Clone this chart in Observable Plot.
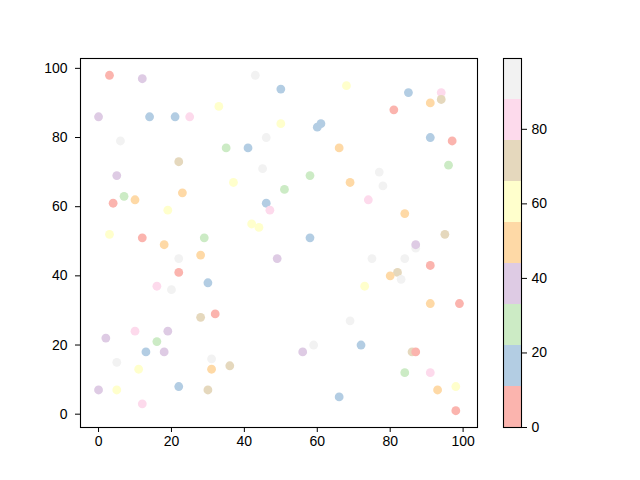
<!DOCTYPE html>
<html><head><meta charset="utf-8">
<script src="https://cdn.jsdelivr.net/npm/d3@7"></script>
<script src="https://cdn.jsdelivr.net/npm/@observablehq/plot@0.6"></script>
<style>
body{margin:0;background:#fff}
#wrap{position:relative;width:640px;height:480px}
#wrap svg{position:absolute;left:0;top:0}
</style>
</head><body><div id="wrap"></div>
<script>
// x, y and colour value of each point (colour value estimated from its band)
const xs = [3,12,0,14,21,25,33,6,22,5, 43,50,68,50,60,61,46,35,41,66, 45,58,37,69,85,94,94,91,81,91, 97,96,77,7,10,4,23,19,3,12, 29,18,28,22,22,30,16,20,51,46, 47,42,44,58,49,78,74,84,95,87, 87,75,84,91,82,80,83,73,28,32, 2,10,19,16,13,18,5,11,31,31, 0,5,22,30,12,69,56,59,36,66, 91,99,72,86,87,84,91,98,93,98];
const ys = [98,97,86,86,86,86,89,79,73,69, 98,94,95,84,83,84,80,77,77,77, 71,69,67,67,93,93,91,90,88,80, 79,72,70,63,62,61,64,59,52,51, 51,49,46,45,41,38,37,36,65,61, 59,55,54,51,45,66,62,58,52,48, 49,45,45,43,41,40,39,37,28,29, 22,24,24,21,18,18,15,13,16,13, 7,7,8,7,3,27,18,20,14,5, 32,32,20,18,18,12,12,8,7,1];
const cs = [5,38,38,16,16,82,60,93,71,38, 93,16,60,60,16,16,93,27,16,49, 93,27,60,49,16,82,71,49,5,16, 5,27,93,27,49,5,49,60,60,5, 27,49,49,93,5,16,82,93,27,16, 82,60,60,16,38,93,82,49,71,93, 38,93,93,5,71,49,93,60,71,5, 38,82,38,27,16,38,93,60,93,49, 38,60,16,71,82,93,38,93,71,16, 49,5,16,71,5,27,82,60,49,5];
const xTicks = [0,20,40,60,80,100];
const yTicks = [0,20,40,60,80,100];
const cbarTicks = [0,20,40,60,80];
const bandEdges = [0,11,22,33,44,55,66,77,88,99];

const points = xs.map((x,i)=>({x, y: ys[i], c: cs[i]}));
const bands = bandEdges.slice(0,-1).map((e,i)=>({y1:e, y2:bandEdges[i+1], c:e}));

const colorScale = {type:"threshold", domain: bandEdges.slice(1,-1), range: d3.schemePastel1};
const font = {fontFamily:"'Liberation Sans Narrow','Liberation Sans',sans-serif", fontSize:"14px", color:"black", background:"transparent", overflow:"visible"};

const main = Plot.plot({
  width:640, height:480,
  marginLeft:80, marginRight:163, marginTop:58, marginBottom:53,
  x:{domain:[-4.95,103.95]},
  y:{domain:[-3.85,102.85]},
  color: colorScale,
  style: font,
  marks:[
    Plot.dot(points,{x:"x", y:"y", fill:"c", r:4.4}),
    Plot.frame({stroke:"black", strokeWidth:1.1}),
    Plot.axisX({ticks:xTicks, tickSize:5, tickPadding:4, label:null}),
    Plot.axisY({ticks:yTicks, tickSize:5, tickPadding:8, label:null})
  ]
});

const cbar = Plot.plot({
  width:640, height:480,
  marginLeft:503, marginRight:119, marginTop:58, marginBottom:53,
  x:{domain:[0,1], axis:null},
  y:{domain:[0,99]},
  color: colorScale,
  style: font,
  marks:[
    Plot.rect(bands,{x1:0, x2:1, y1:"y1", y2:"y2", fill:"c", shapeRendering:"crispEdges"}),
    Plot.frame({stroke:"black", strokeWidth:1.1}),
    Plot.axisY({anchor:"right", ticks:cbarTicks, tickSize:5, tickPadding:5, label:null})
  ]
});

document.getElementById("wrap").append(main, cbar);
</script>
</body></html>
